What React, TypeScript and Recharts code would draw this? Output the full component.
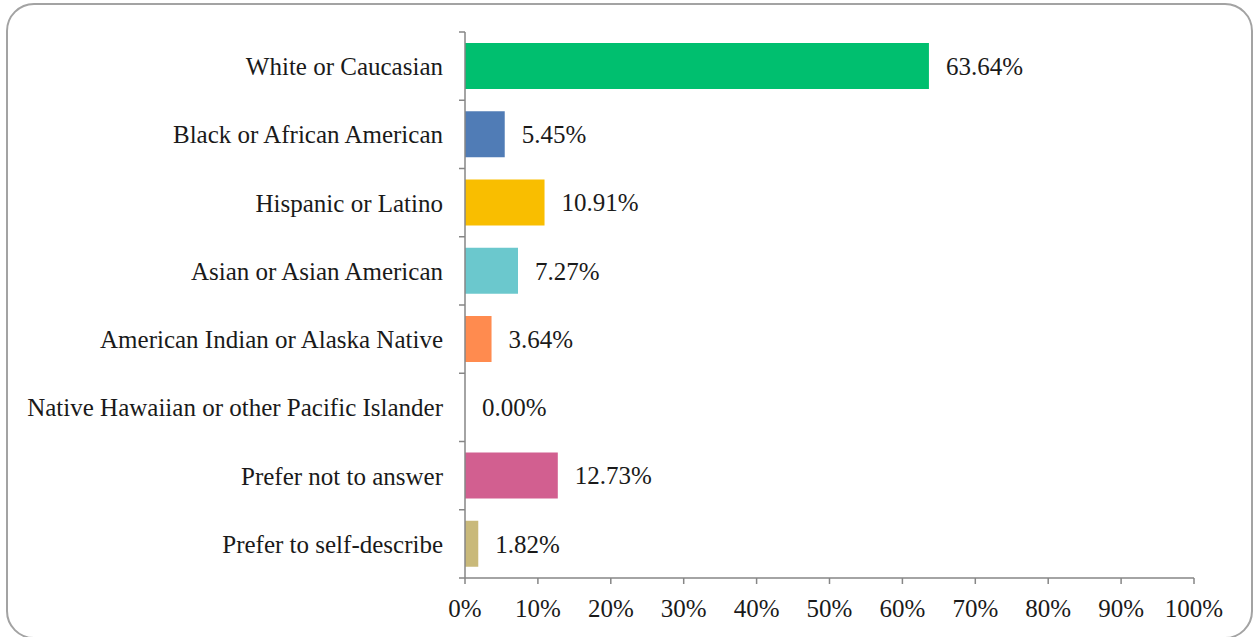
import React from "react";
import { BarChart, Bar, XAxis, YAxis, Cell, LabelList } from "recharts";

const categories = [
  "White or Caucasian",
  "Black or African American",
  "Hispanic or Latino",
  "Asian or Asian American",
  "American Indian or Alaska Native",
  "Native Hawaiian or other Pacific Islander",
  "Prefer not to answer",
  "Prefer to self-describe",
];
const values = [63.64, 5.45, 10.91, 7.27, 3.64, 0.0, 12.73, 1.82];
const colors = ["#00BF6F", "#507CB6", "#F9BE00", "#6BC8CD", "#FF8B4F", "#FFFFFF", "#D25F90", "#C9B97A"];
const xTicks = [0, 10, 20, 30, 40, 50, 60, 70, 80, 90, 100];

const data = categories.map((name, i) => ({ name, value: values[i] }));

const FONT = "'Liberation Serif', 'Times New Roman', serif";
const FS = 25;
const TEXT = "#1a1a1a";
const AXIS = "#868686";

const W = 1247;
const H = 636;
const MARGIN = { top: 29, right: 59, bottom: 21, left: 0 };
const XAXIS_H = 40;
const YAXIS_W = 459;
const TICK_SIZE = 6;
const TICK_MARGIN = 16;

const CategoryTick = (props: any) => {
  const { x, y, payload, index } = props;
  const axisX = x + TICK_SIZE + TICK_MARGIN;
  const plotH = H - MARGIN.top - MARGIN.bottom - XAXIS_H;
  const half = payload && payload.offset ? payload.offset : plotH / categories.length / 2;
  return (
    <g>
      <text x={x} y={y} dy="0.355em" textAnchor="end" fill={TEXT} fontSize={FS} fontFamily={FONT}>
        {payload.value}
      </text>
      <line x1={axisX - TICK_SIZE} x2={axisX} y1={y - half} y2={y - half} stroke={AXIS} strokeWidth={1.5} />
      {index === categories.length - 1 && (
        <line x1={axisX - TICK_SIZE} x2={axisX} y1={y + half} y2={y + half} stroke={AXIS} strokeWidth={1.5} />
      )}
    </g>
  );
};

export default function App() {
  return (
    <div style={{ position: "absolute", left: 6, top: 3, width: W, height: H }}>
      <div
        style={{
          position: "absolute",
          left: 0,
          top: 0,
          width: W,
          height: H,
          boxSizing: "border-box",
          border: "2px solid #a3a3a3",
          borderRadius: 28,
          background: "#fff",
        }}
      />
      <div style={{ position: "absolute", left: 0, top: 0 }}>
        <BarChart width={W} height={H} data={data} layout="vertical" margin={MARGIN}>
          <XAxis
            type="number"
            dataKey="value"
            domain={[0, 100]}
            ticks={xTicks}
            interval={0}
            height={XAXIS_H}
            tickFormatter={(v: number) => `${v}%`}
            tick={{ fill: TEXT, fontSize: FS, fontFamily: FONT }}
            tickSize={6}
            tickMargin={15}
            stroke={AXIS}
            strokeWidth={1.5}
            allowDataOverflow
          />
          <YAxis
            type="category"
            dataKey="name"
            width={YAXIS_W}
            interval={0}
            tick={<CategoryTick />}
            tickLine={false}
            tickSize={TICK_SIZE}
            tickMargin={TICK_MARGIN}
            stroke={AXIS}
            strokeWidth={1.5}
          />
          <Bar dataKey="value" barSize={46} minPointSize={0.01} isAnimationActive={false}>
            {data.map((d, i) => (
              <Cell key={d.name} fill={colors[i]} />
            ))}
            <LabelList
              dataKey="value"
              position="right"
              offset={17}
              formatter={(v: number) => `${Number(v).toFixed(2)}%`}
              fill={TEXT}
              fontSize={FS}
              fontFamily={FONT}
            />
          </Bar>
        </BarChart>
      </div>
    </div>
  );
}
